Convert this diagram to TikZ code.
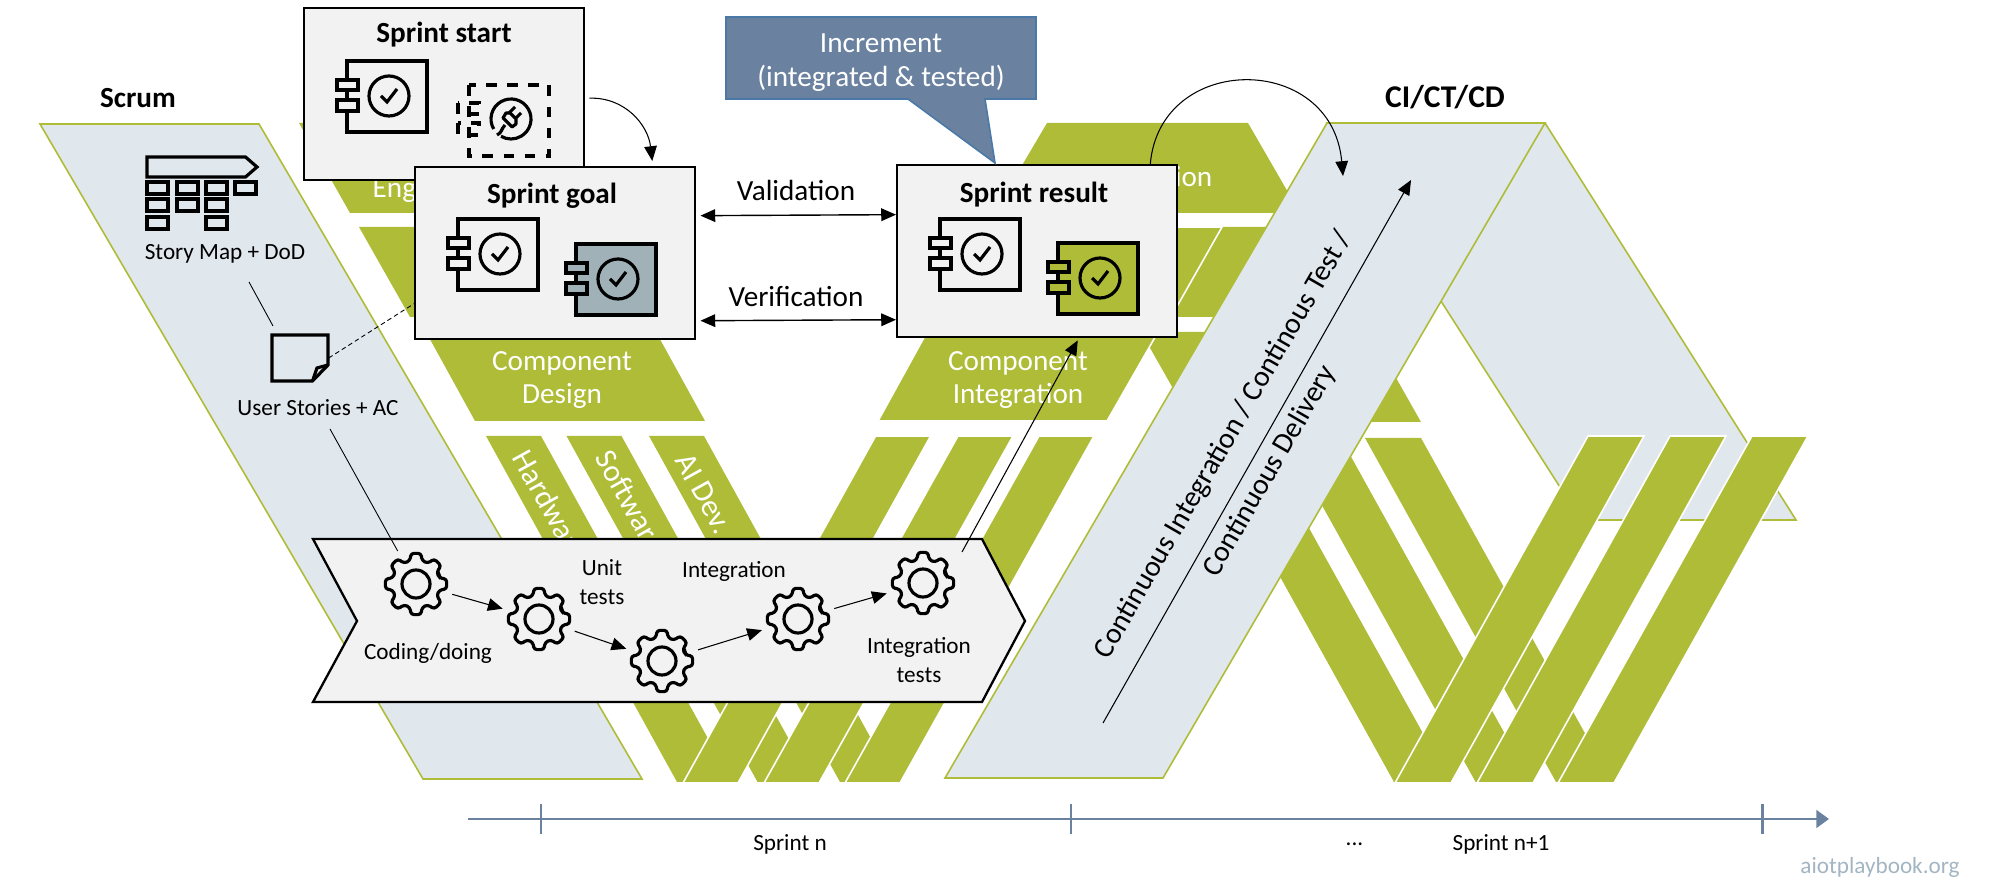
\documentclass[tikz,border=0pt]{standalone}
\usepackage{fontspec}
\setmainfont{Carlito}
\usetikzlibrary{arrows.meta}
\definecolor{bandolive}{HTML}{AEBC37}
\definecolor{paleblue}{HTML}{E0E7ED}
\definecolor{boxgray}{HTML}{F2F2F2}
\definecolor{slateblue}{HTML}{6A82A0}
\definecolor{slateedge}{HTML}{4A79A8}
\definecolor{icongray}{HTML}{A0B1B8}
\definecolor{urlgray}{HTML}{A3B5C2}
\tikzset{
  mainlabel/.style={font=\fontsize{8.3}{9.6}\selectfont, align=center, inner sep=0pt},
  smalllabel/.style={font=\fontsize{6.6}{8.3}\selectfont, align=center, inner sep=0pt},
  titlelabel/.style={mainlabel, font=\fontsize{8.3}{9.6}\selectfont\bfseries},
  bandlabel/.style={mainlabel, text=white},
  stripelabel/.style={mainlabel, text=white, anchor=west, rotate=-61, font=\fontsize{8.8}{10}\selectfont},
  paleband/.style={fill=paleblue, draw=bandolive, line width=.45pt},
  oliveband/.style={fill=bandolive},
  overband/.style={fill=bandolive, draw=white, line width=.45pt},
  sprintbox/.style={draw=black, fill=boxgray, line width=.65pt, anchor=north west,
    minimum width=2.8cm, minimum height=1.72cm, inner sep=0pt},
  iconline/.style={draw=black, line width=.9pt},
  thinarrow/.style={draw=black, line width=.3pt, -{Triangle[length=4.2pt,width=3.6pt]}},
  bothways/.style={draw=black, line width=.4pt, {Triangle[length=4.2pt,width=3.6pt]}-{Triangle[length=4.2pt,width=3.6pt]}},
  thinline/.style={draw=black, line width=.25pt},
  timeline/.style={draw=slateblue, line width=.85pt},
  gearnode/.style={circle, minimum size=.74cm, inner sep=0pt},
  compicon/.pic={
    \draw[iconline, pic actions] (0,0) rectangle (80,71);
    \draw[iconline, pic actions] (-10,19) rectangle (11,29);
    \draw[iconline, pic actions] (-10,39) rectangle (11,50);
    \draw[iconline] (42,35) circle [radius=20];
    \draw[iconline] (34,35) -- (40,41) -- (50,28);
  },
  plugicon/.pic={
    \draw[iconline, dashed] (0,0) rectangle (80,71);
    \draw[iconline, dashed] (-11,18) rectangle (10,29);
    \draw[iconline, dashed] (-11,38) rectangle (10,50);
    \draw[iconline] (42,34) ++(150:20) arc [start angle=150, end angle=480, radius=20];
    \draw[iconline, line join=round] (34,33) -- (43,42) -- (47,39) -- (47,34) -- (41,28) -- (37,28) -- cycle;
    \draw[iconline] (40,28) -- (46,22) (46,34) -- (52,28) (36,40) .. controls (32,44) and (33,48) .. (28,50);
  },
  gearicon/.pic={
    \draw[iconline, rounded corners=.8pt] (-15:24)
      \foreach \a in {0,45,...,315} { -- (\a-9:31) -- (\a+9:31) -- (\a+15:24) -- (\a+30:24) } -- cycle;
    \draw[iconline] (0,0) circle [radius=14];
  },
}

\begin{document}
\begin{tikzpicture}[x=.01cm, y=-.01cm]
    \useasboundingbox (0,0) rectangle (2000,889);

    % Left arm of first sprint
    \fill[oliveband] (299,123) -- (500,123) -- (552,213) -- (350,213) -- cycle;
    \fill[oliveband] (359,227) -- (589,227) -- (640,317) -- (410,317) -- cycle;
    \fill[oliveband] (426,332) -- (656,332) -- (705,421) -- (475,421) -- cycle;
    \foreach \tx in {486,566.5,649}
        \fill[oliveband] (\tx,436) -- (\tx+55,436) -- (\tx+246,782) -- (\tx+191,782) -- cycle;
    \node[bandlabel, anchor=west] (englabel) at (372,191) {Eng};
    \node[bandlabel] (designlabel) at (562,380) {Component\\Design};
    \node[stripelabel] (hwlabel) at (520.5,452) {Hardwar};
    \node[stripelabel] (swlabel) at (603.5,452) {Softwar};
    \node[stripelabel] (ailabel) at (682.5,455) {AI Dev.};

    % Scrum column
    \draw[paleband] (40,124) -- (259,124) -- (642,779) -- (423,779) -- cycle;
    \node[titlelabel] (scrumlabel) at (138,98) {Scrum};
    \draw[iconline] (147,157) -- (245.5,157) -- (257,167) -- (245.5,177) -- (147,177) -- cycle;
    \foreach \cx/\cy in {147/182,177/182,206/182,235/182,147/199,177/199,206/199,147/217,206/217}
        \draw[iconline] (\cx,\cy) rectangle ++(21,12);
    \node[smalllabel] (maplabel) at (225,254) {Story Map + DoD};
    \draw[iconline] (272,335) -- (328,335) -- (328,365) -- (312.5,381) -- (272,381) -- cycle;
    \draw[iconline] (328,365) -- (317,368) -- (312.5,381);
    \node[minimum width=.56cm, minimum height=.46cm, inner sep=0pt] (noteicon) at (300,358) {};
    \node[smalllabel] (storylabel) at (318,408) {User Stories + AC};

    % Second sprint column behind CI
    \draw[paleband] (1327,123) -- (1545,123) -- (1796,520) -- (1581,520) -- cycle;
    \fill[oliveband] (1047,123) -- (1248,123) -- (1300,213) -- (994,213) -- cycle;
    \fill[oliveband] (1100,227) -- (1330,227) -- (1381,317) -- (1151,317) -- cycle;
    \fill[oliveband] (1141,332) -- (1370,332) -- (1421,422) -- (1192,422) -- cycle;
    \foreach \tx in {1203,1284.6,1365}
        \fill[oliveband] (\tx,438) -- (\tx+56,438) -- (\tx+247,782) -- (\tx+191,782) -- cycle;
    \node[bandlabel, anchor=east] (ionlabel) at (1213,177) {ion};

    % Right arm of first sprint
    \draw[overband] (992,227) -- (1222,227) -- (1171,317) -- (941,317) -- cycle;
    \draw[overband] (927,332) -- (1158,332) -- (1107,421) -- (878,421) -- cycle;
    \node[bandlabel] (integrationlabel) at (1018,380) {Component\\Integration};
    \foreach \tx/\bx in {875.6/683,958/764,1039/845}
        \draw[overband] (\tx,436) -- (\tx+55,436) -- (\bx+55,783) -- (\bx,783) -- cycle;

    % CI/CT/CD column
    \draw[paleband] (1327,123) -- (1545,123) -- (1163,778) -- (945,778) -- cycle;
    \node[titlelabel, font=\fontsize{9}{10}\selectfont\bfseries] (cilabel) at (1445,97) {CI/CT/CD};
    \node[mainlabel, rotate=60] (citext) at (1224,445) {Continuous Integration / Continous Test /};
    \node[mainlabel, rotate=60] (cdtext) at (1270,471) {Continuous Delivery};
    \coordinate (cistart) at (1103,723);
    \coordinate (ciend) at (1411,180);
    \draw[thinarrow] (cistart) -- (ciend);
    \foreach \tx/\bx in {1588/1395,1670/1477,1752/1558}
        \draw[overband] (\tx,436) -- (\tx+56,436) -- (\bx+56,783) -- (\bx,783) -- cycle;

    % Work chevron
    \draw[fill=boxgray, draw=black, line width=.65pt] (313,539) -- (982,539) -- (1025,621) -- (982,702) -- (313,702) -- (357,621) -- cycle;
    \node[gearnode] (gearcoding) at (416,584) {};
    \node[gearnode] (gearunit) at (539,619) {};
    \node[gearnode] (gearlow) at (662,661) {};
    \node[gearnode] (gearinteg) at (798,619) {};
    \node[gearnode] (geartest) at (923,583) {};
    \foreach \g in {gearcoding,gearunit,gearlow,gearinteg,geartest}
        \pic at (\g) {gearicon};
    \draw[thinarrow] (gearcoding) -- (gearunit);
    \draw[thinarrow] (gearunit) -- (gearlow);
    \draw[thinarrow] (gearlow) -- (gearinteg);
    \draw[thinarrow] (gearinteg) -- (geartest);
    \node[smalllabel] (codinglabel) at (428,653) {Coding/doing};
    \node[smalllabel] (unitlabel) at (602,582) {Unit\\tests};
    \node[smalllabel] (integlabel) at (734,571) {Integration};
    \node[smalllabel] (testlabel) at (919,660) {Integration\\tests};

    % Sprint boxes
    \node[sprintbox] (startbox) at (303,7) {};
    \node[titlelabel] (starttitle) at (444,34.5) {Sprint start};
    \pic[fill=boxgray] at (347,61) {compicon};
    \pic at (469,85) {plugicon};
    \node[sprintbox] (goalbox) at (414,166) {};
    \node[titlelabel] (goaltitle) at (552,195.5) {Sprint goal};
    \pic[fill=boxgray] at (458,219) {compicon};
    \pic[fill=icongray] at (576,244) {compicon};
    \node[sprintbox] (resultbox) at (896,164) {};
    \node[titlelabel] (resulttitle) at (1034,194.5) {Sprint result};
    \pic[fill=boxgray] at (940,219) {compicon};
    \pic[fill=bandolive] at (1058,243) {compicon};

    % Increment callout
    \draw[fill=slateblue, draw=slateedge, line width=.45pt] (726,17) -- (1036,17) -- (1036,99) -- (985,99) -- (995,163) -- (908,99) -- (726,99) -- cycle;
    \node[bandlabel] (incrementlabel) at (881,63) {Increment\\(integrated \& tested)};

    % Connectors
    \coordinate (mapfoot) at (249,282);
    \coordinate (notetop) at (273,326);
    \coordinate (storyfoot) at (330,429);
    \draw[thinline] (mapfoot) -- (notetop);
    \draw[thinline] (storyfoot) -- (gearcoding);
    \draw[thinline, dash pattern=on 1.3pt off .9pt] (noteicon.east) -- ([yshift=-.505cm]goalbox.west);
    \draw[thinarrow] ([xshift=.04cm,yshift=-.04cm]startbox.east) .. controls (625,97) and (648,125) .. ([xshift=.97cm,yshift=.05cm]goalbox.north);
    \draw[bothways] ([xshift=.04cm,yshift=.375cm]goalbox.east) -- ([yshift=.365cm]resultbox.west);
    \draw[bothways] ([xshift=.04cm,yshift=-.675cm]goalbox.east) -- ([yshift=-.685cm]resultbox.west);
    \node[mainlabel] (validationlabel) at (796,190) {Validation};
    \node[mainlabel] (verificationlabel) at (796,297) {Verification};
    \coordinate (testfoot) at (962,552);
    \draw[thinarrow] (testfoot) -- ([xshift=.405cm,yshift=-.02cm]resultbox.south);
    \draw[thinarrow] ([xshift=1.13cm]resultbox.north) .. controls (1160,52) and (1332,52) .. (1343,176);

    % Time axis
    \coordinate (timestart) at (468,819);
    \coordinate (timeend) at (1829,819);
    \draw[timeline, -{Triangle[length=3.6pt,width=5pt]}] (timestart) -- (timeend);
    \foreach \tx in {541,1070.6,1762.5}
        \draw[draw=slateblue, line width=.6pt] (\tx,804) -- (\tx,834);
    \node[smalllabel] (sprintn) at (790,844) {Sprint n};
    \node[smalllabel] (dotslabel) at (1354.5,844) {...};
    \node[smalllabel] (sprintnext) at (1501,844) {Sprint n+1};
    \node[smalllabel, text=urlgray] (urllabel) at (1880,867) {aiotplaybook.org};
\end{tikzpicture}
\end{document}
